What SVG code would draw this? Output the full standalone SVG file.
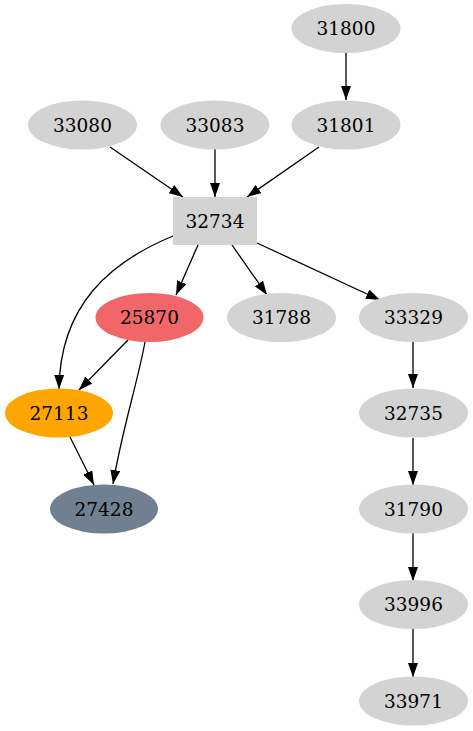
<svg xmlns="http://www.w3.org/2000/svg" width="473" height="731" viewBox="0 0 473 731">
<style>
.n{fill:#d3d3d3;stroke:none}
text{font-family:"DejaVu Serif",serif;font-size:18.5px;text-anchor:middle;fill:#000}
.e{fill:none;stroke:#000;stroke-width:1.3;marker-end:url(#ah)}
</style>
<defs>
<marker id="ah" markerUnits="userSpaceOnUse" markerWidth="14" markerHeight="10" refX="14" refY="5" orient="auto" viewBox="0 0 14 10">
<path d="M0,0 L14,5 L0,10 z" fill="#000"/>
</marker>
</defs>
<rect width="473" height="731" fill="#fff"/>
<g id="edges">
<path class="e" d="M346,53 L346,100"/>
<path class="e" d="M110,147 L183,197"/>
<path class="e" d="M215,149 L215,197"/>
<path class="e" d="M319,147 L247,197"/>
<path class="e" d="M173,236 C110,262 60,305 59,389"/>
<path class="e" d="M198,245 L176,295"/>
<path class="e" d="M232,245 L267,295"/>
<path class="e" d="M257,243 L380,300"/>
<path class="e" d="M128,340 L79,390"/>
<path class="e" d="M145,342 C137,385 122,430 113,484"/>
<path class="e" d="M70,437 L94,485"/>
<path class="e" d="M413,342 L413,388"/>
<path class="e" d="M413,438 L413,485"/>
<path class="e" d="M413,533 L413,581"/>
<path class="e" d="M413,629 L413,677"/>
</g>
<g id="n31800"><ellipse class="n" cx="346" cy="28.5" rx="54.5" ry="24.5"/><text x="346" y="35">31800</text></g>
<g id="n31801"><ellipse class="n" cx="346" cy="125" rx="54.5" ry="24.5"/><text x="346" y="131.5">31801</text></g>
<g id="n33080"><ellipse class="n" cx="82.5" cy="125" rx="54.5" ry="24.5"/><text x="82.5" y="131.5">33080</text></g>
<g id="n33083"><ellipse class="n" cx="215" cy="125" rx="54.5" ry="24.5"/><text x="215" y="131.5">33083</text></g>
<g id="n32734"><rect class="n" x="173" y="197" width="84" height="48"/><text x="215" y="227.5">32734</text></g>
<g id="n25870"><ellipse cx="149.5" cy="317.5" rx="54" ry="24.5" fill="#f06669"/><text x="149.5" y="324">25870</text></g>
<g id="n31788"><ellipse class="n" cx="281.5" cy="317.5" rx="54.5" ry="24.5"/><text x="281.5" y="324">31788</text></g>
<g id="n33329"><ellipse class="n" cx="413.5" cy="317.5" rx="54.5" ry="24.5"/><text x="413.5" y="324">33329</text></g>
<g id="n27113"><ellipse cx="59" cy="413" rx="54" ry="24.5" fill="#ffa500"/><text x="59" y="419.5">27113</text></g>
<g id="n32735"><ellipse class="n" cx="413.5" cy="413" rx="54.5" ry="24.5"/><text x="413.5" y="419.5">32735</text></g>
<g id="n27428"><ellipse cx="104" cy="509" rx="54" ry="24.5" fill="#708090"/><text x="104" y="515.5">27428</text></g>
<g id="n31790"><ellipse class="n" cx="413.5" cy="509" rx="54.5" ry="24.5"/><text x="413.5" y="515.5">31790</text></g>
<g id="n33996"><ellipse class="n" cx="413.5" cy="604.5" rx="54.5" ry="24.5"/><text x="413.5" y="611">33996</text></g>
<g id="n33971"><ellipse class="n" cx="413.5" cy="701" rx="54.5" ry="24.5"/><text x="413.5" y="707.5">33971</text></g>
</svg>
